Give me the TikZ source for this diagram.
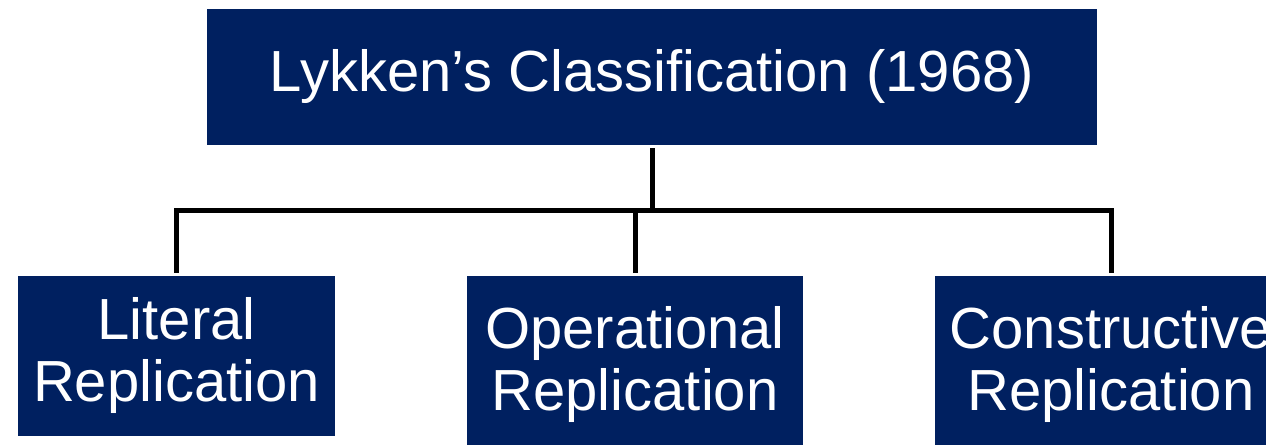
\documentclass[tikz,border=0pt]{standalone}
\usepackage{fontspec}
\setmainfont{Liberation Sans}
\usetikzlibrary{positioning}
\definecolor{navy}{RGB}{0,32,96}

\begin{document}
\begin{tikzpicture}[x=0.5pt,y=-0.5pt]
      \useasboundingbox (0,0) rectangle (1266,445);
      \begin{scope}[every node/.style={fill=navy,text=white,inner sep=0pt,align=center,
          font=\fontsize{29}{31}\selectfont}]
        \node (lyk) [minimum width=445pt,minimum height=68pt] at (652,77) {Lykken’s Classification (1968)};
        \node (lit) [minimum width=158.5pt,minimum height=80pt] at (176.5,356) {Literal\\Replication};
        \node (ope) [minimum width=168pt,minimum height=88pt] at (635,364) {Operational\\Replication};
        \node (con) [minimum width=176pt,minimum height=88pt] at (1111,364) {Constructive\\Replication};
      \end{scope}
      \coordinate (bus) at (652,210.5);
      \begin{scope}[line width=2.5pt]
        \draw ([yshift=-1.5pt]lyk.south) -- (bus);
        \draw ([yshift=1.5pt]lit.north) |- (bus) -| ([yshift=1.5pt]con.north);
        \draw (ope.north |- bus) -- ([yshift=1.5pt]ope.north);
      \end{scope}
    \end{tikzpicture}
\end{document}
